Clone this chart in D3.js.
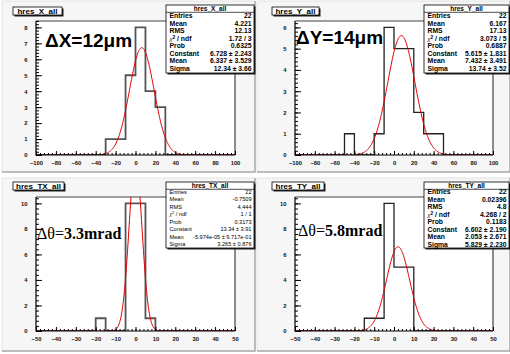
<!DOCTYPE html>
<html>
<head>
<meta charset="utf-8">
<script src="https://cdn.jsdelivr.net/npm/d3@7"></script>
<style>
  html, body { margin: 0; padding: 0; background: #fff; }
  svg { display: block; }
  text { font-family: "Liberation Sans", Arial, sans-serif; }
</style>
</head>
<body>
<div id="canvas"></div>
<script>
// histogram names and axis ranges
const histNames = ['hres_X_all', 'hres_Y_all', 'hres_TX_all', 'hres_TY_all'];
const xRanges = [[-100, 100], [-100, 100], [-50, 50], [-50, 50]];
const xTickSteps = [20, 20, 10, 10];
const yTickSteps = [1, 1, 2, 2];

// bin contents (20 bins over each x range)
const countsX = [0, 0, 0, 0, 0, 0, 0, 1, 1, 5, 8, 4, 3, 0, 0, 0, 0, 0, 0, 0];
const countsY = [0, 0, 0, 0, 0, 1, 0, 0, 1, 6, 5, 5, 2, 1, 1, 0, 0, 0, 0, 0];
const countsTX = [0, 0, 0, 0, 0, 0, 1, 0, 0, 10, 10, 1, 0, 0, 0, 0, 0, 0, 0, 0];
const countsTY = [0, 0, 0, 0, 0, 0, 0, 1, 1, 10, 5, 5, 0, 0, 0, 0, 0, 0, 0, 0];
const allCounts = [countsX, countsY, countsTX, countsTY];

// gaussian fit parameters: constant, mean, sigma
const fitConst = [6.728, 5.615, 13.34, 6.602];
const fitMean = [6.337, 7.432, -5.974e-05, 2.053];
const fitSigma = [12.34, 13.74, 3.265, 5.829];

// stat box texts
const statLabels = ['Entries', 'Mean', 'RMS', 'chi2', 'Prob', 'Constant', 'Mean', 'Sigma'];
const statValuesX = ['22', '4.221', '12.13', '1.72 / 3', '0.6325', '6.728 \u00b1 2.243', '6.337 \u00b1 3.529', '12.34 \u00b1 3.66'];
const statValuesY = ['22', '6.167', '17.13', '3.073 / 5', '0.6887', '5.615 \u00b1 1.831', '7.432 \u00b1 3.491', '13.74 \u00b1 3.52'];
const statValuesTX = ['22', '-0.7509', '4.444', '1 / 1', '0.3173', '13.34 \u00b1 3.91', '-5.974e-05 \u00b1 9.717e-01', '3.265 \u00b1 0.876'];
const statValuesTY = ['22', '0.02396', '4.8', '4.268 / 2', '0.1183', '6.602 \u00b1 2.190', '2.053 \u00b1 2.671', '5.829 \u00b1 2.230'];
const allStats = [statValuesX, statValuesY, statValuesTX, statValuesTY];

// big resolution labels
const resLabels = [
    {pre: '\u0394X=12\u03bcm', post: ''},
    {pre: '\u0394Y=14\u03bcm', post: ''},
    {pre: '\u0394\u03b8=', post: '3.3mrad'},
    {pre: '\u0394\u03b8=', post: '5.8mrad'}
];

// layout (pixels)
const W = 510, H = 354;
const pads = [
    {x: 2, y: 1, w: 253, h: 171},
    {x: 257, y: 1, w: 253, h: 171},
    {x: 2, y: 178, w: 253, h: 173},
    {x: 257, y: 178, w: 253, h: 173}
];
const frames = [
    {x0: 36, x1: 235, y0: 21, y1: 155},
    {x0: 295, x1: 493, y0: 21, y1: 155},
    {x0: 36, x1: 235, y0: 197, y1: 331},
    {x0: 295, x1: 493, y0: 197, y1: 331}
];
const titleBoxes = [
    {x: 13, y: 7, w: 49, h: 8},
    {x: 272, y: 7, w: 47, h: 8},
    {x: 13, y: 182, w: 51, h: 8},
    {x: 272, y: 182, w: 52, h: 8}
];
const statBoxes = [
    {x: 166, y: 5, w: 88, h: 68, fs: 6.8, bold: true, off: 13.3},
    {x: 424, y: 5, w: 85, h: 68, fs: 6.8, bold: true, off: 13.3},
    {x: 166, y: 182, w: 88, h: 66, fs: 5.6, bold: false, off: 11.8},
    {x: 424, y: 182, w: 85, h: 66, fs: 6.8, bold: true, off: 12.3}
];
const labelPos = [
    {x: 45, y: 47, serif: false},
    {x: 296, y: 44, serif: false},
    {x: 37, y: 239, serif: true},
    {x: 298, y: 236, serif: true}
];
const histStroke = ['#555', '#222', '#555', '#222'];
const histWidth = [1.8, 1.3, 1.8, 1.3];

const svg = d3.select('#canvas').append('svg')
    .attr('width', W)
    .attr('height', H);

svg.append('rect').attr('width', W).attr('height', H).style('fill', '#fff');

const defs = svg.append('defs');

histNames.forEach((name, k) => {
    const pad = pads[k], fr = frames[k];
    const counts = allCounts[k];
    const [xmin, xmax] = xRanges[k];
    const nb = counts.length;
    const bw = (xmax - xmin) / nb;
    const ymax = d3.max(counts) * 1.05;

    // pad with bevel
    const g = svg.append('g');
    g.append('rect')
        .attr('x', pad.x).attr('y', pad.y)
        .attr('width', pad.w).attr('height', pad.h)
        .style('fill', '#f6f6f6');
    g.append('path')
        .attr('d', `M${pad.x},${pad.y + pad.h}V${pad.y}H${pad.x + pad.w}`)
        .style('fill', 'none').style('stroke', '#e2e2e2').style('stroke-width', 1);
    g.append('path')
        .attr('d', `M${pad.x},${pad.y + pad.h}H${pad.x + pad.w}V${pad.y}`)
        .style('fill', 'none').style('stroke', '#a8a8a8').style('stroke-width', 1.5);

    const xs = d3.scaleLinear().domain([xmin, xmax]).range([fr.x0, fr.x1]);
    const ys = d3.scaleLinear().domain([0, ymax]).range([fr.y1, fr.y0]);

    // frame
    g.append('rect')
        .attr('x', fr.x0).attr('y', fr.y0)
        .attr('width', fr.x1 - fr.x0).attr('height', fr.y1 - fr.y0)
        .style('fill', '#fff');

    defs.append('clipPath').attr('id', 'clip' + k)
        .append('rect')
        .attr('x', fr.x0).attr('y', fr.y0)
        .attr('width', fr.x1 - fr.x0).attr('height', fr.y1 - fr.y0);

    // histogram outline
    const steps = [];
    counts.forEach((c, i) => {
        steps.push([xmin + i * bw, c]);
        steps.push([xmin + (i + 1) * bw, c]);
    });
    const histLine = d3.line()
        .x(d => xs(d[0]))
        .y(d => ys(d[1]));
    g.append('path')
        .datum(steps)
        .attr('d', histLine)
        .attr('clip-path', `url(#clip${k})`)
        .style('fill', 'none')
        .style('stroke', histStroke[k])
        .style('stroke-width', histWidth[k]);

    // gaussian fit curve
    const gaus = x => fitConst[k] * Math.exp(-0.5 * Math.pow((x - fitMean[k]) / fitSigma[k], 2));
    const fx = d3.range(0, 401).map(i => xmin + (xmax - xmin) * i / 400);
    const fitLine = d3.line()
        .x(d => xs(d))
        .y(d => ys(gaus(d)))
        .curve(d3.curveLinear);
    g.append('path')
        .datum(fx)
        .attr('d', fitLine)
        .attr('clip-path', `url(#clip${k})`)
        .style('fill', 'none')
        .style('stroke', '#e00000')
        .style('stroke-width', 1);

    // frame border (top / right)
    g.append('path')
        .attr('d', `M${fr.x0},${fr.y0}H${fr.x1}V${fr.y1}`)
        .style('fill', 'none').style('stroke', '#444').style('stroke-width', 1.2);

    // x axis with ticks pointing up
    const xMajor = d3.range(xmin, xmax + 1e-9, xTickSteps[k]);
    const xMinor = d3.range(xmin, xmax + 1e-9, xTickSteps[k] / 5);
    const frH = fr.y1 - fr.y0, frW = fr.x1 - fr.x0;
    const xAxis = d3.axisBottom(xs)
        .tickValues(xMinor)
        .tickSize(-frH * 0.015)
        .tickFormat('');
    const xAxisMajor = d3.axisBottom(xs)
        .tickValues(xMajor)
        .tickSize(-frH * 0.03)
        .tickPadding(frH * 0.03 + 2)
        .tickFormat(d3.format('d'));
    [xAxis, xAxisMajor].forEach(ax => {
        const a = g.append('g')
            .attr('class', 'x axis')
            .attr('transform', `translate(0,${fr.y1})`)
            .call(ax);
        a.select('.domain').remove();
        a.selectAll('line').style('stroke', '#000').style('stroke-width', 1);
        a.selectAll('text')
            .style('font-family', '"Liberation Sans", Arial, sans-serif')
            .style('font-size', '5.8px')
            .style('font-weight', 'bold')
            .style('fill', '#111');
    });

    // y axis with ticks pointing right
    const yMajor = d3.range(0, ymax + 1e-9, yTickSteps[k]);
    const yMinor = d3.range(0, ymax + 1e-9, yTickSteps[k] / 5);
    const yAxis = d3.axisLeft(ys)
        .tickValues(yMinor)
        .tickSize(-frW * 0.015)
        .tickFormat('');
    const yAxisMajor = d3.axisLeft(ys)
        .tickValues(yMajor)
        .tickSize(-frW * 0.03)
        .tickPadding(frW * 0.03 + 2.5)
        .tickFormat(d3.format('d'));
    [yAxis, yAxisMajor].forEach(ax => {
        const a = g.append('g')
            .attr('class', 'y axis')
            .attr('transform', `translate(${fr.x0},0)`)
            .call(ax);
        a.select('.domain').remove();
        a.selectAll('line').style('stroke', '#000').style('stroke-width', 1);
        a.selectAll('text')
            .style('font-family', '"Liberation Sans", Arial, sans-serif')
            .style('font-size', '5.8px')
            .style('font-weight', 'bold')
            .style('fill', '#111');
    });

    // axis lines
    g.append('path')
        .attr('d', `M${fr.x0},${fr.y0}V${fr.y1}H${fr.x1}`)
        .style('fill', 'none').style('stroke', '#000').style('stroke-width', 1.2);

    // title box
    const tb = titleBoxes[k];
    g.append('rect')
        .attr('x', tb.x + 1.5).attr('y', tb.y + 1.5)
        .attr('width', tb.w).attr('height', tb.h)
        .style('fill', '#222');
    g.append('rect')
        .attr('x', tb.x).attr('y', tb.y)
        .attr('width', tb.w).attr('height', tb.h)
        .style('fill', '#fff').style('stroke', '#000').style('stroke-width', 0.8);
    g.append('text')
        .attr('x', tb.x + tb.w / 2).attr('y', tb.y + tb.h - 1.4)
        .style('text-anchor', 'middle')
        .style('font-size', '8px')
        .style('font-weight', 'bold')
        .style('fill', '#000')
        .text(name);

    // big resolution label
    const lp = labelPos[k], rl = resLabels[k];
    const lt = g.append('text')
        .attr('x', lp.x).attr('y', lp.y)
        .style('fill', '#000');
    if (!lp.serif) {
        lt.style('font-size', '19px').style('font-weight', 'bold').text(rl.pre);
    } else {
        lt.style('font-family', '"Liberation Serif", "Times New Roman", serif').style('font-size', '16px');
        lt.append('tspan').style('font-weight', 'normal').text(rl.pre);
        lt.append('tspan').style('font-weight', 'bold').text(rl.post);
    }

    // stat box
    const sb = statBoxes[k];
    g.append('rect')
        .attr('x', sb.x + 1.5).attr('y', sb.y + 1.5)
        .attr('width', sb.w).attr('height', sb.h)
        .style('fill', '#222');
    g.append('rect')
        .attr('x', sb.x).attr('y', sb.y)
        .attr('width', sb.w).attr('height', sb.h)
        .style('fill', '#fff').style('stroke', '#000').style('stroke-width', 0.8);
    g.append('line')
        .attr('x1', sb.x).attr('x2', sb.x + sb.w)
        .attr('y1', sb.y + 7.3).attr('y2', sb.y + 7.3)
        .style('stroke', '#000').style('stroke-width', 0.7);
    g.append('text')
        .attr('x', sb.x + sb.w / 2).attr('y', sb.y + 6)
        .style('text-anchor', 'middle')
        .style('font-size', '6.5px')
        .style('font-weight', 'bold')
        .style('fill', '#000')
        .text(name);
    const weight = sb.bold ? 'bold' : 'normal';
    statLabels.forEach((lab, i) => {
        const yy = sb.y + sb.off + i * 7.5;
        const t = g.append('text')
            .attr('x', sb.x + 3.5).attr('y', yy)
            .style('font-size', sb.fs + 'px')
            .style('font-weight', weight)
            .style('fill', '#000');
        if (lab === 'chi2') {
            t.append('tspan').style('font-style', 'italic').style('font-weight', 'normal')
                .style('font-family', '"Liberation Serif", serif').text('\u03c7');
            t.append('tspan').attr('dy', -2).style('font-size', (sb.fs * 0.7) + 'px').text('2');
            t.append('tspan').attr('dy', 2).text(' / ndf');
        } else {
            t.text(lab);
        }
        g.append('text')
            .attr('x', sb.x + sb.w - 2.5).attr('y', yy)
            .style('text-anchor', 'end')
            .style('font-size', sb.fs + 'px')
            .style('font-weight', weight)
            .style('fill', '#000')
            .text(allStats[k][i]);
    });
});
</script>
</body>
</html>
